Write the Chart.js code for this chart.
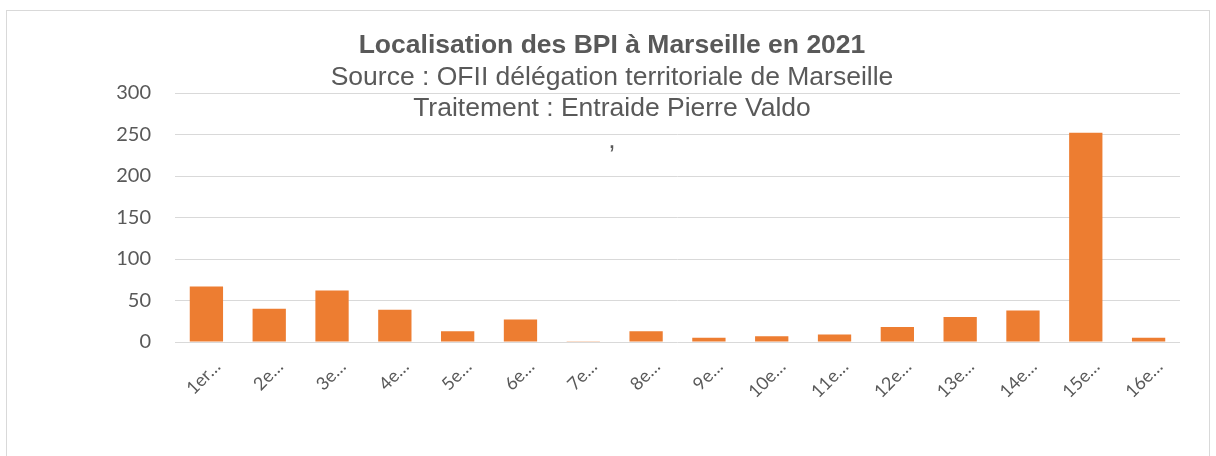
<!DOCTYPE html>
<html>
<head>
<meta charset="utf-8">
<script src="https://cdn.jsdelivr.net/npm/chart.js@4/dist/chart.umd.min.js"></script>
<style>
html,body{margin:0;padding:0;background:#fff;}
#c{display:block;}
</style>
</head>
<body>
<canvas id="c" width="1216" height="456"></canvas>
<script>
const categories = ['1er…','2e…','3e…','4e…','5e…','6e…','7e…','8e…','9e…','10e…','11e…','12e…','13e…','14e…','15e…','16e…'];
const values = [67, 40, 62, 39, 13, 27, 1, 13, 5, 7, 9, 18, 30, 38, 252, 5];
const yTicks = [0, 50, 100, 150, 200, 250, 300];
const titleLines = ['Localisation des BPI à Marseille en 2021'];
const subtitleLines = ['Source : OFII délégation territoriale de Marseille', 'Traitement : Entraide Pierre Valdo', ','];

const textColor = '#595959';

const frame = {
  id: 'frame',
  beforeDraw(chart) {
    const c = chart.ctx;
    c.save();
    c.fillStyle = '#fff';
    c.fillRect(0, 0, chart.width, chart.height);
    c.strokeStyle = '#d9d9d9';
    c.lineWidth = 1;
    c.strokeRect(6.5, 10.5, 1203, 470);
    c.restore();
  },
  afterDraw(chart) {
    const c = chart.ctx;
    c.save();
    c.fillStyle = textColor;
    c.textAlign = 'center';
    c.textBaseline = 'middle';
    const cx = 612;
    let y = 46;
    c.font = 'bold 26.5px "Liberation Sans", Arial, sans-serif';
    titleLines.forEach(t => { c.fillText(t, cx, y); y += 31.5; });
    c.font = '26.5px "Liberation Sans", Arial, sans-serif';
    subtitleLines.forEach(t => { c.fillText(t, cx, y); y += 31.5; });
    c.restore();
  }
};

new Chart(document.getElementById('c'), {
  type: 'bar',
  data: {
    labels: categories,
    datasets: [{
      data: values,
      backgroundColor: '#ED7D31',
      borderWidth: 0,
      categoryPercentage: 1,
      barPercentage: 0.53
    }]
  },
  options: {
    responsive: false,
    devicePixelRatio: 1,
    animation: false,
    layout: { padding: { top: 93, right: 36, bottom: 0, left: 0 } },
    plugins: { legend: { display: false }, tooltip: { enabled: false }, title: { display: false } },
    scales: {
      x: {
        grid: { display: false, drawTicks: false },
        border: { display: false },
        ticks: {
          color: textColor,
          font: { family: 'Lato, "Open Sans", sans-serif', size: 18 },
          minRotation: 45, maxRotation: 45,
          autoSkip: false,
          padding: 14,
          labelOffset: 11
        },
        afterFit(s) { s.height = 114; }
      },
      y: {
        min: 0, max: 300,
        grid: { color: '#d9d9d9', lineWidth: 1, drawTicks: false },
        border: { display: false },
        afterBuildTicks(s) { s.ticks = yTicks.map(v => ({ value: v })); },
        ticks: {
          color: textColor,
          font: { family: 'Lato, "Open Sans", sans-serif', size: 20 },
          padding: 24
        },
        afterFit(s) { s.width = 175; }
      }
    }
  },
  plugins: [frame]
});
</script>
</body>
</html>
